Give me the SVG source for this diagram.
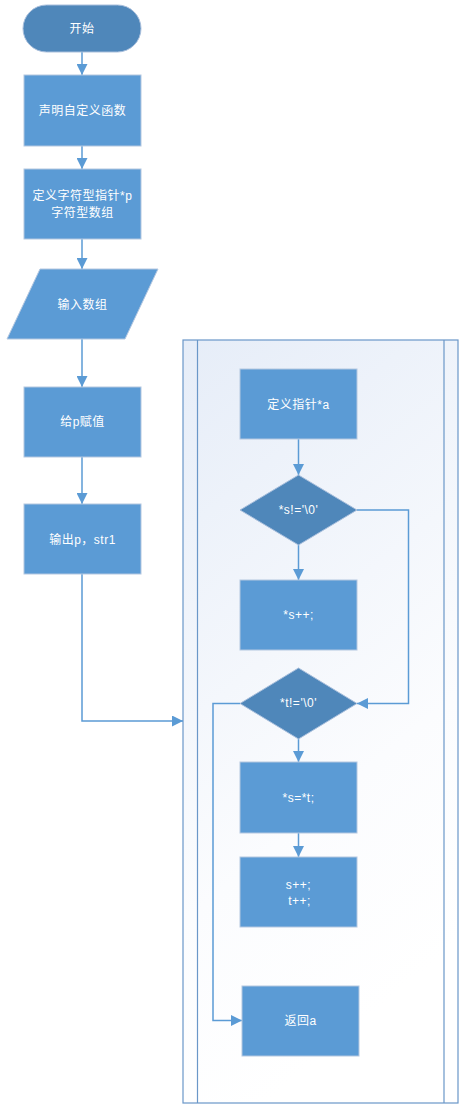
<svg xmlns="http://www.w3.org/2000/svg" width="460" height="1107" viewBox="0 0 460 1107">
<style>
.box{fill:#5b9bd5;stroke:#b4c7e0;stroke-width:1}
.dark{fill:#4f87ba;stroke:#a9bfdc;stroke-width:1}
.t{font-family:"Liberation Sans","Noto Sans CJK SC",sans-serif;font-size:12px;fill:#ffffff;text-anchor:middle;dominant-baseline:central;letter-spacing:0.5px}
.c{fill:none;stroke:#5b9bd5;stroke-width:1.5}
.frame{fill:none;stroke:#6a97c8;stroke-width:1.2}
</style>
<defs>
<marker id="arr" markerUnits="userSpaceOnUse" markerWidth="11" markerHeight="11" refX="10" refY="5" viewBox="0 0 10 10" orient="auto">
<path d="M0,0 L10,5 L0,10 z" fill="#5b9bd5"/>
</marker>
<linearGradient id="bg" x1="0" y1="0" x2="0.3" y2="1">
<stop offset="0" stop-color="#e6edf8"/>
<stop offset="0.7" stop-color="#fbfcfe"/>
<stop offset="1" stop-color="#ffffff"/>
</linearGradient>
</defs>
<g id="container">
<rect x="183" y="340" width="275" height="763" fill="url(#bg)"/>
<rect class="frame" x="183" y="340" width="275" height="763"/>
<line class="frame" x1="197.5" y1="340" x2="197.5" y2="1103"/>
<line class="frame" x1="444" y1="340" x2="444" y2="1103"/>
</g>
<g id="connectors">
<line class="c" x1="82" y1="52" x2="82" y2="75" marker-end="url(#arr)"/>
<line class="c" x1="82" y1="146" x2="82" y2="169" marker-end="url(#arr)"/>
<line class="c" x1="82" y1="239" x2="82" y2="269" marker-end="url(#arr)"/>
<line class="c" x1="82" y1="339" x2="82" y2="387" marker-end="url(#arr)"/>
<line class="c" x1="82" y1="457" x2="82" y2="504" marker-end="url(#arr)"/>
<polyline class="c" points="82,574 82,721 183,721" marker-end="url(#arr)"/>
<line class="c" x1="298.5" y1="439" x2="298.5" y2="475" marker-end="url(#arr)"/>
<line class="c" x1="298.5" y1="545" x2="298.5" y2="580" marker-end="url(#arr)"/>
<polyline class="c" points="357,510 408.5,510 408.5,703.5 357,703.5" marker-end="url(#arr)"/>
<line class="c" x1="298.5" y1="739" x2="298.5" y2="762" marker-end="url(#arr)"/>
<line class="c" x1="298.5" y1="833" x2="298.5" y2="857" marker-end="url(#arr)"/>
<polyline class="c" points="240,703.5 213,703.5 213,1020.5 242,1020.5" marker-end="url(#arr)"/>
</g>
<g id="start">
<rect class="dark" x="23" y="5" width="118" height="47" rx="23.5" ry="23.5"/>
<text class="t" x="82" y="28.5">开始</text>
</g>
<g id="declare">
<rect class="box" x="24" y="75" width="117" height="71"/>
<text class="t" x="82.5" y="110.5">声明自定义函数</text>
</g>
<g id="define">
<rect class="box" x="24" y="169" width="117" height="70"/>
<text class="t" x="82.5" y="196">定义字符型指针*p</text>
<text class="t" x="82.5" y="213">字符型数组</text>
</g>
<g id="input">
<polygon class="box" points="40,269 158,269 125,339 7,339"/>
<text class="t" x="82.5" y="304.5">输入数组</text>
</g>
<g id="assign">
<rect class="box" x="24" y="387" width="117" height="70"/>
<text class="t" x="82.5" y="422">给p赋值</text>
</g>
<g id="output">
<rect class="box" x="24" y="504" width="117" height="70"/>
<text class="t" x="82.5" y="540">输出p，str1</text>
</g>
<g id="defa">
<rect class="box" x="240" y="369" width="117" height="70"/>
<text class="t" x="298.5" y="405">定义指针*a</text>
</g>
<g id="cond1">
<polygon class="dark" points="298.5,475 357,510 298.5,545 240,510"/>
<text class="t" x="298.5" y="510">*s!='\0'</text>
</g>
<g id="sinc">
<rect class="box" x="240" y="580" width="117" height="70"/>
<text class="t" x="298.5" y="615">*s++;</text>
</g>
<g id="cond2">
<polygon class="dark" points="298.5,668 357,703.5 298.5,739 240,703.5"/>
<text class="t" x="298.5" y="703">*t!='\0'</text>
</g>
<g id="copy">
<rect class="box" x="240" y="762" width="117" height="71"/>
<text class="t" x="298.5" y="798">*s=*t;</text>
</g>
<g id="incr">
<rect class="box" x="240" y="857" width="117" height="70"/>
<text class="t" x="298.5" y="884.5">s++;</text>
<text class="t" x="299.5" y="900.5">t++;</text>
</g>
<g id="ret">
<rect class="box" x="242" y="986" width="117" height="70"/>
<text class="t" x="300.5" y="1021">返回a</text>
</g>
</svg>
